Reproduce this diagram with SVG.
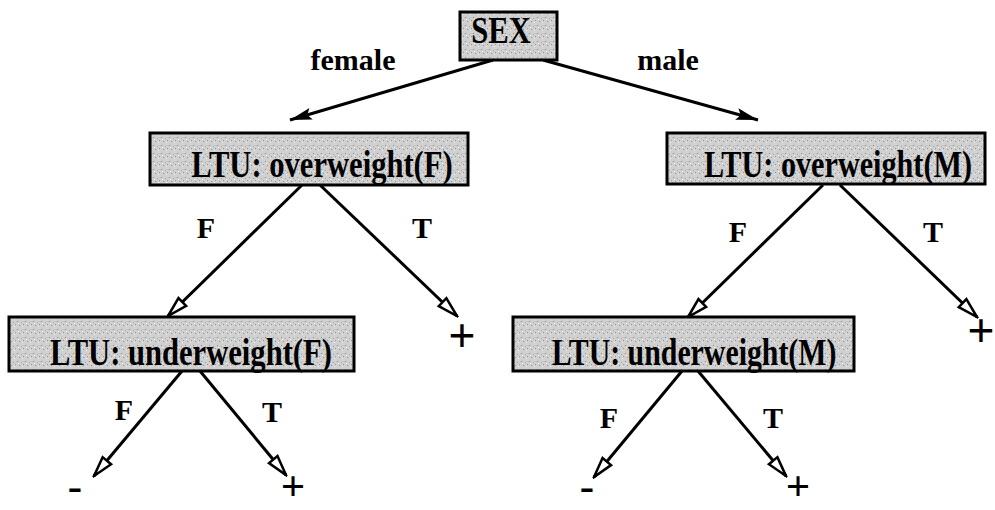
<svg xmlns="http://www.w3.org/2000/svg" width="995" height="510" viewBox="0 0 995 510">
<style>
.box{fill:url(#stip);stroke:#000;stroke-width:3}
.bt{font-family:"Liberation Serif","Times New Roman",serif;font-weight:bold;font-size:38px;text-anchor:middle;fill:#000}
.lb{font-family:"Liberation Serif","Times New Roman",serif;font-weight:bold;font-size:30px;text-anchor:middle;fill:#000}
.lf{font-family:"Liberation Serif","Times New Roman",serif;font-weight:bold;font-size:48px;text-anchor:middle;fill:#000}
.lfb{font-family:"Liberation Serif","Times New Roman",serif;font-weight:bold;font-size:43px;text-anchor:middle;fill:#000}
.c{stroke:#000;stroke-width:3;fill:none}
.s{marker-end:url(#solid)}
.o{marker-end:url(#open)}
</style>
<defs>
<pattern id="stip" width="8" height="8" patternUnits="userSpaceOnUse">
<rect width="8" height="8" fill="#d0d0d0"/>
<rect x="1" y="1" width="1" height="1" fill="#8a8a8a"/>
<rect x="5" y="2" width="1" height="1" fill="#a0a0a0"/>
<rect x="3" y="5" width="1" height="1" fill="#909090"/>
<rect x="6" y="6" width="1" height="1" fill="#f0f0f0"/>
<rect x="2" y="3" width="1" height="1" fill="#f2f2f2"/>
<rect x="7" y="4" width="1" height="1" fill="#9a9a9a"/>
</pattern>
<marker id="solid" viewBox="0 -8 24 16" refX="22" refY="0" markerWidth="24" markerHeight="16" markerUnits="userSpaceOnUse" orient="auto">
<path d="M0,-6 L22,0 L0,6 L4,0 z" fill="#000"/>
</marker>
<marker id="open" viewBox="-2 -8 24 16" refX="20" refY="0" markerWidth="24" markerHeight="16" markerUnits="userSpaceOnUse" orient="auto">
<path d="M0,-5.5 L20,0 L0,5.5 z" fill="#fff" stroke="#000" stroke-width="2.5" stroke-linejoin="miter"/>
</marker>
</defs>
<g id="connectors">
<line class="c s" x1="493" y1="60" x2="290" y2="120"/>
<line class="c s" x1="543" y1="60" x2="758" y2="120"/>
<line class="c o" x1="302" y1="185" x2="168" y2="316"/>
<line class="c o" x1="320" y1="185" x2="457" y2="316"/>
<line class="c o" x1="823" y1="185" x2="688" y2="317"/>
<line class="c o" x1="840" y1="185" x2="977" y2="317"/>
<line class="c o" x1="182" y1="371" x2="94" y2="476"/>
<line class="c o" x1="200" y1="371" x2="286" y2="475"/>
<line class="c o" x1="682" y1="371" x2="594" y2="477"/>
<line class="c o" x1="698" y1="371" x2="786" y2="476"/>
<text class="lb" x="353" y="70">female</text>
<text class="lb" x="668" y="70">male</text>
<text class="lb" x="206" y="238">F</text>
<text class="lb" x="422" y="238">T</text>
<text class="lb" x="738" y="242">F</text>
<text class="lb" x="933" y="242">T</text>
<text class="lb" x="124" y="420">F</text>
<text class="lb" x="272" y="422">T</text>
<text class="lb" x="609" y="428">F</text>
<text class="lb" x="773" y="428">T</text>
</g>
<g id="sex">
<rect class="box" x="460" y="12" width="97" height="48"/>
<text class="bt" transform="translate(501,43) scale(0.805,1)">SEX</text>
</g>
<g id="overweightF">
<rect class="box" x="150" y="133" width="318" height="52"/>
<text class="bt" transform="translate(322,177) scale(0.805,1)">LTU: overweight(F)</text>
</g>
<g id="overweightM">
<rect class="box" x="667" y="133" width="318" height="51"/>
<text class="bt" transform="translate(838,177) scale(0.795,1)">LTU: overweight(M)</text>
</g>
<g id="underweightF">
<rect class="box" x="9" y="317" width="345" height="54"/>
<text class="bt" transform="translate(191,365) scale(0.805,1)">LTU: underweight(F)</text>
</g>
<g id="underweightM">
<rect class="box" x="513" y="317" width="341" height="54"/>
<text class="bt" transform="translate(694,365) scale(0.785,1)">LTU: underweight(M)</text>
</g>
<g id="leafFT"><text class="lf" x="462" y="352">+</text></g>
<g id="leafMT"><text class="lf" x="981" y="347">+</text></g>
<g id="leafFFF"><text class="lfb" x="75" y="500">-</text></g>
<g id="leafFFT"><text class="lfb" x="293" y="500">+</text></g>
<g id="leafMFF"><text class="lfb" x="587" y="500">-</text></g>
<g id="leafMFT"><text class="lfb" x="798" y="500">+</text></g>
</svg>
